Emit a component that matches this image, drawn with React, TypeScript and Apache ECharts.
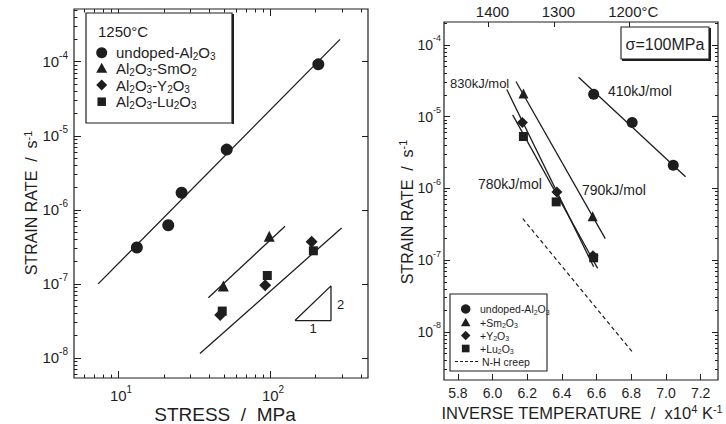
import React, { useEffect, useRef } from "react";
import * as echarts from "echarts";

const INK = "#1e1e1e";
const FONT = "'Liberation Sans', Arial, sans-serif";

// ---------- Left panel: 1250°C, strain rate vs stress ----------
const stressUndoped = [13.3, 21.4, 26.2, 51.9, 208];
const rateUndoped = [3.1e-7, 6.2e-7, 1.7e-6, 6.5e-6, 9.2e-5];
const stressSm = [49.3, 98.9];
const rateSm = [9.4e-8, 4.4e-7];
const stressY = [47, 93, 188];
const rateY = [3.8e-8, 9.6e-8, 3.7e-7];
const stressLu = [48.5, 96, 193];
const rateLu = [4.3e-8, 1.3e-7, 2.8e-7];
const fitUndopedStress = [7.4, 289];
const fitUndopedRate = [1.0e-7, 2.0e-4];
const fitSmStress = [39.3, 125.6];
const fitSmRate = [6.5e-8, 6.0e-7];
const fitYLuStress = [34.6, 296];
const fitYLuRate = [1.15e-8, 5.7e-7];
const slopeTriStress = [146, 252, 252, 146];
const slopeTriRate = [3.2e-8, 3.2e-8, 9.4e-8, 3.2e-8];
const stressTicks = [10, 100];
const rateTicksLeft = [1e-8, 1e-7, 1e-6, 1e-5, 1e-4];

// ---------- Right panel: σ = 100 MPa, strain rate vs 1/T ----------
const invTUndoped = [6.583, 6.805, 7.042];
const rateUndopedT = [2.06e-5, 8.3e-6, 2.1e-6];
const invTSm = [6.178, 6.577];
const rateSmT = [2.1e-5, 4.1e-7];
const invTY = [6.172, 6.371, 6.579];
const rateYT = [8.3e-6, 8.9e-7, 1.15e-7];
const invTLu = [6.178, 6.367, 6.583];
const rateLuT = [5.3e-6, 6.5e-7, 1.08e-7];
const fit410InvT = [6.496, 7.113];
const fit410Rate = [3.55e-5, 1.46e-6];
const fit790InvT = [6.135, 6.65];
const fit790Rate = [3.1e-5, 2.0e-7];
const fit830InvT = [6.082, 6.583];
const fit830Rate = [2.4e-5, 8.1e-8];
const fit780InvT = [6.116, 6.606];
const fit780Rate = [1.06e-5, 7.7e-8];
const nhInvT = [6.174, 6.805];
const nhRate = [3.8e-7, 5.3e-9];
const invTTicks = [5.8, 6.0, 6.2, 6.4, 6.6, 6.8, 7.0, 7.2];
const rateTicksRight = [1e-8, 1e-7, 1e-6, 1e-5, 1e-4];
const tempTicksC = [1400, 1300, 1200];

const pair = (xs: number[], ys: number[]) => xs.map((x, i) => [x, ys[i]]);

function logMinor(lo: number, hi: number, min: number, max: number) {
  const out: number[] = [];
  for (let k = lo; k <= hi; k++) {
    for (let m = 2; m <= 9; m++) {
      const v = m * Math.pow(10, k);
      if (v > min && v < max) out.push(v);
    }
  }
  return out;
}

const powLabel = (v: number) => `{b|10}{s|${Math.round(Math.log10(v))}}`;

const axisRich = (size: number) => ({
  b: { fontSize: size, fontFamily: FONT, color: INK, lineHeight: size + 8 },
  s: { fontSize: Math.round(size * 0.66), fontFamily: FONT, color: INK, lineHeight: 9, verticalAlign: "top" },
});

const gRich = (size: number) => ({
  sub: { fontSize: Math.round(size * 0.66), fontFamily: FONT, fill: INK, lineHeight: Math.round(size * 0.6), verticalAlign: "bottom" },
  sup: { fontSize: Math.round(size * 0.66), fontFamily: FONT, fill: INK, lineHeight: Math.round(size * 0.6), verticalAlign: "top" },
});

function txt(x: number, y: number, text: string, size: number, align = "left", rotation = 0) {
  return {
    type: "text",
    x,
    y,
    rotation,
    silent: true,
    style: {
      text,
      fontSize: size,
      fontFamily: FONT,
      fill: INK,
      align,
      verticalAlign: "middle",
      lineHeight: size + 3,
      rich: gRich(size),
    },
  };
}

function marker(kind: string, cx: number, cy: number, s: number) {
  const h = s / 2;
  const style = { fill: INK };
  if (kind === "circle") return { type: "circle", shape: { cx, cy, r: h }, style, silent: true };
  if (kind === "rect") return { type: "rect", shape: { x: cx - h * 0.85, y: cy - h * 0.85, width: s * 0.85, height: s * 0.85 }, style, silent: true };
  if (kind === "triangle")
    return { type: "polygon", shape: { points: [[cx, cy - h], [cx + h, cy + h * 0.8], [cx - h, cy + h * 0.8]] }, style, silent: true };
  return { type: "polygon", shape: { points: [[cx, cy - h], [cx + h, cy], [cx, cy + h], [cx - h, cy]] }, style, silent: true };
}

// axis ranges
const L_XMIN = 5.13, L_XMAX = 441.6, L_YMIN = 5.37e-9, L_YMAX = 5.14e-4;
const R_XMIN = 5.72, R_XMAX = 7.3, R_YMIN = 2.14e-9, R_YMAX = 2.09e-4;

function baseAxis(extra: any) {
  return {
    splitLine: { show: false },
    axisLine: { show: false },
    axisPointer: { show: false },
    ...extra,
  };
}

function tickOnly(type: string, gridIndex: number, position: string, min: number, max: number, values: number[], length: number) {
  return baseAxis({
    type,
    gridIndex,
    position,
    min,
    max,
    axisTick: { show: true, inside: true, length, lineStyle: { color: INK, width: 1 }, customValues: values },
    axisLabel: { show: false },
  });
}

export default function App() {
  const ref = useRef<HTMLDivElement>(null);
  useEffect(() => {
    if (!ref.current) return;
    const chart = echarts.init(ref.current, undefined, { renderer: "svg" });

    const tempVals = tempTicksC.map((t) => 1e4 / (t + 273.15));
    const lxMinor = logMinor(0, 2, L_XMIN, L_XMAX);
    const lyMinor = logMinor(-9, -4, L_YMIN, L_YMAX);
    const ryMinor = logMinor(-9, -4, R_YMIN, R_YMAX);

    const xAxis: any[] = [
      baseAxis({
        type: "log",
        gridIndex: 0,
        position: "bottom",
        min: L_XMIN,
        max: L_XMAX,
        axisTick: { show: true, inside: true, length: 7, lineStyle: { color: INK }, customValues: stressTicks },
        axisLabel: { customValues: stressTicks, formatter: powLabel, rich: axisRich(15), margin: 6, padding: [0, 0, 0, 6] },
      }),
      tickOnly("log", 0, "bottom", L_XMIN, L_XMAX, lxMinor, 3.5),
      tickOnly("log", 0, "top", L_XMIN, L_XMAX, stressTicks, 7),
      tickOnly("log", 0, "top", L_XMIN, L_XMAX, lxMinor, 3.5),
      baseAxis({
        type: "value",
        gridIndex: 1,
        position: "bottom",
        min: R_XMIN,
        max: R_XMAX,
        axisTick: { show: true, inside: true, length: 6, lineStyle: { color: INK }, customValues: invTTicks },
        axisLabel: {
          customValues: invTTicks,
          formatter: (v: number) => v.toFixed(1),
          fontSize: 14,
          fontFamily: FONT,
          color: INK,
          margin: 6,
        },
      }),
      baseAxis({
        type: "value",
        gridIndex: 1,
        position: "top",
        min: R_XMIN,
        max: R_XMAX,
        axisTick: { show: true, inside: true, length: 5, lineStyle: { color: INK }, customValues: tempVals },
        axisLabel: {
          customValues: tempVals,
          formatter: (v: number) => {
            const t = Math.round((1e4 / v - 273.15) / 100) * 100;
            return t === 1200 ? `${t}°C` : `${t}`;
          },
          fontSize: 15,
          fontFamily: FONT,
          color: INK,
          margin: 3,
          padding: [0, 0, 0, 8],
        },
      }),
    ];

    const yAxis: any[] = [
      baseAxis({
        type: "log",
        gridIndex: 0,
        position: "left",
        min: L_YMIN,
        max: L_YMAX,
        axisTick: { show: true, inside: true, length: 7, lineStyle: { color: INK }, customValues: rateTicksLeft },
        axisLabel: { customValues: rateTicksLeft, formatter: powLabel, rich: axisRich(15), margin: 6 },
      }),
      tickOnly("log", 0, "left", L_YMIN, L_YMAX, lyMinor, 3.5),
      tickOnly("log", 0, "right", L_YMIN, L_YMAX, rateTicksLeft, 6),
      baseAxis({
        type: "log",
        gridIndex: 1,
        position: "left",
        min: R_YMIN,
        max: R_YMAX,
        axisTick: { show: true, inside: true, length: 6, lineStyle: { color: INK }, customValues: rateTicksRight },
        axisLabel: { customValues: rateTicksRight, formatter: powLabel, rich: axisRich(14), margin: 3 },
      }),
      tickOnly("log", 1, "left", R_YMIN, R_YMAX, ryMinor, 3),
      tickOnly("log", 1, "right", R_YMIN, R_YMAX, rateTicksRight, 6),
      tickOnly("log", 1, "right", R_YMIN, R_YMAX, ryMinor, 3),
    ];

    const fitLine = (xi: number, yi: number, data: number[][], dashed = false) => ({
      type: "line",
      xAxisIndex: xi,
      yAxisIndex: yi,
      data,
      symbol: "none",
      silent: true,
      lineStyle: { color: INK, width: dashed ? 1.2 : 1.3, type: dashed ? [4, 3] : "solid" },
      z: 2,
    });
    const pts = (xi: number, yi: number, name: string, data: number[][], symbol: string, size: any) => ({
      type: "scatter",
      name,
      xAxisIndex: xi,
      yAxisIndex: yi,
      data,
      symbol,
      symbolSize: size,
      itemStyle: { color: INK, opacity: 1 },
      silent: true,
      z: 3,
    });

    const series: any[] = [
      fitLine(0, 0, pair(fitUndopedStress, fitUndopedRate)),
      fitLine(0, 0, pair(fitSmStress, fitSmRate)),
      fitLine(0, 0, pair(fitYLuStress, fitYLuRate)),
      fitLine(0, 0, pair(slopeTriStress, slopeTriRate)),
      pts(0, 0, "undoped-Al2O3", pair(stressUndoped, rateUndoped), "circle", 12),
      pts(0, 0, "Al2O3-SmO2", pair(stressSm, rateSm), "triangle", 11),
      pts(0, 0, "Al2O3-Y2O3", pair(stressY, rateY), "diamond", [12, 12]),
      pts(0, 0, "Al2O3-Lu2O3", pair(stressLu, rateLu), "rect", 9),

      fitLine(4, 3, pair(fit410InvT, fit410Rate)),
      fitLine(4, 3, pair(fit790InvT, fit790Rate)),
      fitLine(4, 3, pair(fit830InvT, fit830Rate)),
      fitLine(4, 3, pair(fit780InvT, fit780Rate)),
      fitLine(4, 3, pair(nhInvT, nhRate), true),
      pts(4, 3, "undoped-Al2O3 (100MPa)", pair(invTUndoped, rateUndopedT), "circle", 11),
      pts(4, 3, "+Sm2O3", pair(invTSm, rateSmT), "triangle", 10),
      pts(4, 3, "+Y2O3", pair(invTY, rateYT), "diamond", [11, 11]),
      pts(4, 3, "+Lu2O3", pair(invTLu, rateLuT), "rect", 9),
    ];

    const leftLegendY = [52.7, 68.3, 85, 101.7];
    const leftLegendKinds = ["circle", "triangle", "diamond", "rect"];
    const leftLegendText = [
      "undoped-Al{sub|2}O{sub|3}",
      "Al{sub|2}O{sub|3}-SmO{sub|2}",
      "Al{sub|2}O{sub|3}-Y{sub|2}O{sub|3}",
      "Al{sub|2}O{sub|3}-Lu{sub|2}O{sub|3}",
    ];
    const rightLegendY = [309, 322.5, 335.5, 348.5, 361.5];
    const rightLegendText = [
      "undoped-Al{sub|2}O{sub|3}",
      "+Sm{sub|2}O{sub|3}",
      "+Y{sub|2}O{sub|3}",
      "+Lu{sub|2}O{sub|3}",
      "N-H creep",
    ];

    const graphic: any[] = [
      { type: "rect", shape: { x: 86, y: 13, width: 146, height: 110 }, style: { fill: "#fff", stroke: INK, lineWidth: 1.2 }, z: 10, silent: true },
      { type: "line", shape: { x1: 233, y1: 14, x2: 233, y2: 124 }, style: { stroke: INK, lineWidth: 2 }, z: 10, silent: true },
      { ...txt(98, 31, "1250°C", 15), z: 11 },
      ...leftLegendY.map((y, i) => ({ ...marker(leftLegendKinds[i], 101.7, y, leftLegendKinds[i] === "rect" ? 10 : 11), z: 11 })),
      ...leftLegendY.map((y, i) => ({ ...txt(116, y, leftLegendText[i], 15), z: 11 })),
      txt(337, 304, "2", 13),
      txt(313, 328, "1", 13, "center"),
      txt(31.5, 203, "STRAIN RATE  /  s{sup|-1}", 16, "center", Math.PI / 2),
      txt(225, 414, "STRESS  /  MPa", 19, "center"),

      txt(450, 83, "830kJ/mol", 13),
      txt(608, 91, "410kJ/mol", 14),
      txt(478, 184, "780kJ/mol", 14),
      txt(582, 190, "790kJ/mol", 14),
      { type: "rect", shape: { x: 621, y: 27, width: 88, height: 32 }, style: { fill: "#fff", stroke: INK, lineWidth: 1.1 }, z: 10, silent: true },
      { type: "polyline", shape: { points: [[710, 28], [710, 60], [622, 60]] }, style: { stroke: INK, lineWidth: 2, fill: "none" }, z: 10, silent: true },
      { ...txt(665, 44, "σ=100MPa", 16, "center"), z: 11 },
      { type: "rect", shape: { x: 450, y: 294, width: 97, height: 77 }, style: { fill: "#fff", stroke: INK, lineWidth: 1.1 }, z: 10, silent: true },
      ...["circle", "triangle", "diamond", "rect"].map((k, i) => ({ ...marker(k, 465.7, rightLegendY[i], k === "rect" ? 9 : 9.5), z: 11 })),
      { type: "line", shape: { x1: 455, y1: rightLegendY[4], x2: 478, y2: rightLegendY[4] }, style: { stroke: INK, lineWidth: 1, lineDash: [3, 2] }, z: 11, silent: true },
      ...rightLegendY.map((y, i) => ({ ...txt(i === 4 ? 482 : 480, y, rightLegendText[i], 10.5), z: 11 })),
      txt(407, 212, "STRAIN RATE  /  s{sup|-1}", 16, "center", Math.PI / 2),
      txt(582, 413, "INVERSE TEMPERATURE  /  x10{sup|4} K{sup|-1}", 16.5, "center"),
    ];

    chart.setOption({
      animation: false,
      backgroundColor: "#ffffff",
      textStyle: { fontFamily: FONT, color: INK },
      grid: [
        { left: 74, top: 9, width: 294, height: 369, show: true, borderColor: INK, borderWidth: 1.2, backgroundColor: "transparent" },
        { left: 444, top: 22, width: 274, height: 358, show: true, borderColor: INK, borderWidth: 1.2, backgroundColor: "transparent" },
      ],
      xAxis,
      yAxis,
      series,
      graphic,
    });
    return () => chart.dispose();
  }, []);
  return <div ref={ref} style={{ position: "absolute", left: 0, top: 0, width: 726, height: 424 }} />;
}
